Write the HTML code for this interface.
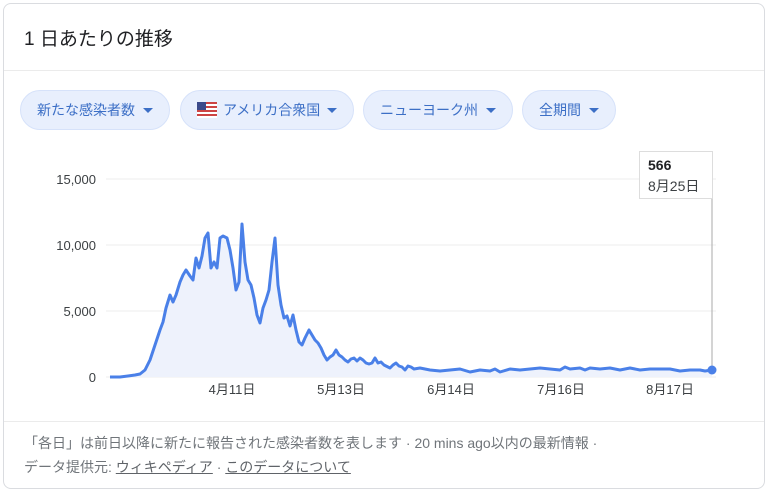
<!DOCTYPE html>
<html><head><meta charset="utf-8"><style>
body{margin:0;width:768px;height:492px;background:#fff;font-family:"Liberation Sans","Noto Sans CJK JP",sans-serif;overflow:hidden;position:relative}
.card{position:absolute;left:3px;top:3px;width:760px;height:484px;border:1px solid #dadce0;border-radius:8px}
.t{position:absolute;left:24px;top:24px;font-size:19px;color:#202124}
.hr{position:absolute;left:4px;right:4px;height:1px;background:#ebebeb}
.chip{position:absolute;top:90px;height:40px;border-radius:20px;background:#e8effd;border:1px solid #d6e2fa;color:#3c6fc6;font-size:14px;line-height:38px;padding:0 16px;box-sizing:border-box;white-space:nowrap}
.chip:after{content:"";position:absolute;right:16px;top:17px;border-left:5px solid transparent;border-right:5px solid transparent;border-top:5px solid #3c6fc6}
.f{position:absolute;left:24px;font-size:14px;color:#70757a}
.f u{color:#5f6368;text-decoration:underline}
</style></head><body>
<div class="card"></div>
<div class="t">1 日あたりの推移</div>
<div class="hr" style="top:70px"></div>
<div class="chip" style="left:20px;width:150px">新たな感染者数</div>
<div class="chip" style="left:180px;width:174px"><span style="display:inline-block;width:20px;height:16px;vertical-align:-3px;margin-right:6px;background:repeating-linear-gradient(#c44 0 2px,#fff 2px 4px)"><span style="display:block;width:9px;height:8px;background:#3b4a8a"></span></span>アメリカ合衆国</div>
<div class="chip" style="left:363px;width:150px">ニューヨーク州</div>
<div class="chip" style="left:522px;width:94px">全期間</div>
<svg style="position:absolute;left:0;top:0" width="768" height="492">
<g stroke="#eee" stroke-width="1"><line x1="106" x2="716" y1="179" y2="179"/><line x1="106" x2="716" y1="245" y2="245"/><line x1="106" x2="716" y1="311" y2="311"/><line x1="106" x2="716" y1="377" y2="377"/></g>
<g font-size="13" fill="#3c4043" text-anchor="end"><text x="96" y="184">15,000</text><text x="96" y="250">10,000</text><text x="96" y="316">5,000</text><text x="96" y="382">0</text></g>
<g font-size="13" fill="#3c4043" text-anchor="middle"><text x="232" y="394">4月11日</text><text x="341" y="394">5月13日</text><text x="451" y="394">6月14日</text><text x="561" y="394">7月16日</text><text x="670" y="394">8月17日</text></g>
<line x1="712" x2="712" y1="199" y2="370" stroke="#aaa"/>
<polyline fill="#eef2fc" stroke="none" points="110,377 120,377 128,376 135,375 140,374 145,370 150,360 155,345 160,330 163,322 166,308 170,295 173,302 176,295 180,282 183,275 186,270 190,276 193,280 196,258 199,268 202,256 205,238 208,233 211,268 214,262 217,268 220,238 223,236 227,238 230,250 233,268 236,290 239,282 242,224 245,262 248,280 251,285 254,298 257,315 260,323 263,308 266,300 269,290 272,262 275,238 278,285 281,305 284,318 287,316 290,326 293,315 296,330 299,342 302,345 305,338 309,330 312,335 315,340 318,343 321,348 324,355 327,360 330,357 333,355 336,350 339,355 342,357 345,360 348,362 351,359 354,358 357,361 360,358 363,360 366,363 369,364 372,363 375,358 378,363 381,362 384,365 390,368 393,365 396,363 399,366 402,367 405,370 408,366 411,367 414,369 420,368 430,370 440,371 450,370 460,369 470,372 480,370 490,371 495,369 500,372 510,369 520,370 530,369 540,368 550,369 560,370 565,367 570,369 580,368 585,370 590,368 600,369 610,368 620,370 630,368 640,370 650,369 660,369 670,369 680,371 690,370 700,370 705,371 712,370 712,377"/>
<polyline fill="none" stroke="#4a80e8" stroke-width="3" stroke-linejoin="round" points="110,377 120,377 128,376 135,375 140,374 145,370 150,360 155,345 160,330 163,322 166,308 170,295 173,302 176,295 180,282 183,275 186,270 190,276 193,280 196,258 199,268 202,256 205,238 208,233 211,268 214,262 217,268 220,238 223,236 227,238 230,250 233,268 236,290 239,282 242,224 245,262 248,280 251,285 254,298 257,315 260,323 263,308 266,300 269,290 272,262 275,238 278,285 281,305 284,318 287,316 290,326 293,315 296,330 299,342 302,345 305,338 309,330 312,335 315,340 318,343 321,348 324,355 327,360 330,357 333,355 336,350 339,355 342,357 345,360 348,362 351,359 354,358 357,361 360,358 363,360 366,363 369,364 372,363 375,358 378,363 381,362 384,365 390,368 393,365 396,363 399,366 402,367 405,370 408,366 411,367 414,369 420,368 430,370 440,371 450,370 460,369 470,372 480,370 490,371 495,369 500,372 510,369 520,370 530,369 540,368 550,369 560,370 565,367 570,369 580,368 585,370 590,368 600,369 610,368 620,370 630,368 640,370 650,369 660,369 670,369 680,371 690,370 700,370 705,371 712,370"/>
<circle cx="712" cy="370" r="4.5" fill="#4a80e8"/>
<rect x="639.5" y="151.5" width="73" height="47" fill="#fff" stroke="#ddd"/>
<text x="648" y="170" font-size="14" font-weight="bold" fill="#202124">566</text>
<text x="648" y="191" font-size="14" fill="#3c4043">8月25日</text>
</svg>
<div class="hr" style="top:421px"></div>
<div class="f" style="top:433px">「各日」は前日以降に新たに報告された感染者数を表します · 20 mins ago以内の最新情報 ·</div>
<div class="f" style="top:457px">データ提供元: <u>ウィキペディア</u> · <u>このデータについて</u></div>
</body></html>
